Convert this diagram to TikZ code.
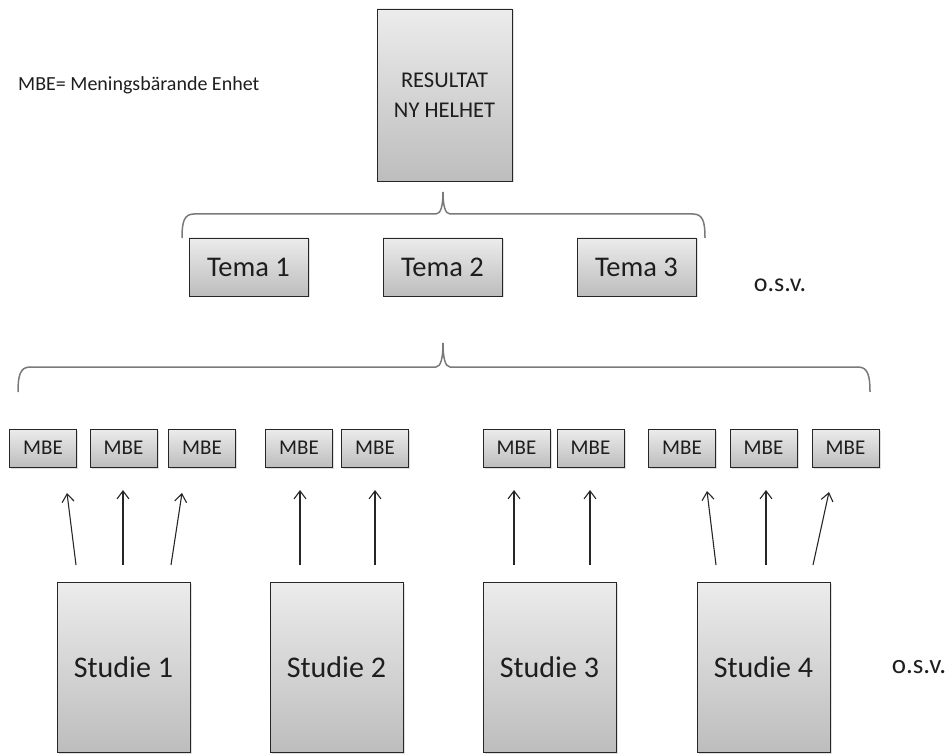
\documentclass[tikz,border=0pt]{standalone}
\usepackage{fontspec}
\setmainfont{Carlito}
\usetikzlibrary{arrows.meta,shadows}
\definecolor{txt}{HTML}{1E1E1E}
\definecolor{brc}{HTML}{7A7A7A}
\definecolor{boxtop}{HTML}{ECECEC}
\definecolor{boxbot}{HTML}{BDBDBD}
\begin{document}
\begin{tikzpicture}[x=1pt,y=-1pt,
  box/.style={draw=black!85, line width=0.9pt, top color=boxtop, bottom color=boxbot,
    inner sep=0pt, text=txt, align=center,
    drop shadow={shadow xshift=1.5pt, shadow yshift=-1.5pt, opacity=0.25}},
  resbox/.style={box, minimum width=135pt, minimum height=172pt, font=\fontsize{22.5}{30}\selectfont},
  temabox/.style={box, minimum width=119pt, minimum height=58pt, font=\fontsize{28.5}{32}\selectfont},
  mbebox/.style={box, minimum width=67pt, minimum height=38pt, font=\fontsize{21}{24}\selectfont},
  studbox/.style={box, minimum width=133pt, minimum height=170pt, font=\fontsize{30}{34}\selectfont},
  plain/.style={text=txt, inner sep=0pt},
  brace/.style={draw=brc, line width=1.5pt},
  arr/.style={draw=black!85, line width=1.1pt, -{Straight Barb[length=8pt,width=12pt,line width=1.1pt]}}]
\useasboundingbox (0,0) rectangle (951,754);

% legend
\node[plain, anchor=west, font=\fontsize{20}{22}\selectfont] (legend) at (18,85) {MBE= Meningsbärande Enhet};

% result
\node[resbox] (res) at (444.5,95) {RESULTAT\\NY HELHET};

% top brace
\coordinate (tbl) at (182,238);
\coordinate (tbr) at (705,238);
\coordinate (tbp) at (443,192);
\draw[brace] (tbl) .. controls (182,222) and (184,214) .. (194,214) -- (436,214)
  .. controls (441,214) and (443,205) .. (tbp)
  .. controls (443,205) and (445,214) .. (450,214) -- (693,214)
  .. controls (703,214) and (705,222) .. (tbr);

% themes
\node[temabox] (t1) at (248.5,267) {Tema 1};
\node[temabox] (t2) at (442.5,267) {Tema 2};
\node[temabox] (t3) at (636.5,267) {Tema 3};
\node[plain, font=\fontsize{26}{30}\selectfont] (osv1) at (780,285) {o.s.v.};

% lower brace
\coordinate (lbl) at (18,392);
\coordinate (lbr) at (870,392);
\coordinate (lbp) at (443,343);
\draw[brace] (lbl) .. controls (18,376) and (20,367) .. (30,367) -- (436,367)
  .. controls (441,367) and (443,357) .. (lbp)
  .. controls (443,357) and (445,367) .. (450,367) -- (858,367)
  .. controls (868,367) and (870,376) .. (lbr);

% MBE boxes
\node[mbebox] (m1) at (43,448) {MBE};
\node[mbebox] (m2) at (123.5,448) {MBE};
\node[mbebox] (m3) at (202,448) {MBE};
\node[mbebox] (m4) at (299,448) {MBE};
\node[mbebox] (m5) at (375,448) {MBE};
\node[mbebox] (m6) at (516.5,448) {MBE};
\node[mbebox] (m7) at (590.5,448) {MBE};
\node[mbebox] (m8) at (682,448) {MBE};
\node[mbebox] (m9) at (763.5,448) {MBE};
\node[mbebox] (m10) at (845.5,448) {MBE};

% studies
\node[studbox] (s1) at (123.5,667) {Studie 1};
\node[studbox] (s2) at (336.5,667) {Studie 2};
\node[studbox] (s3) at (549.5,667) {Studie 3};
\node[studbox] (s4) at (763.5,667) {Studie 4};
\node[plain, font=\fontsize{27}{30}\selectfont] (osv2) at (919,667) {o.s.v.};

% arrows
\coordinate (a1s) at (76,565);  \coordinate (a1e) at (67,493);
\coordinate (a2s) at (123,565); \coordinate (a2e) at (123,490);
\coordinate (a3s) at (171,565); \coordinate (a3e) at (182,493);
\coordinate (a4s) at (300,565); \coordinate (a4e) at (300,490);
\coordinate (a5s) at (375,565); \coordinate (a5e) at (375,490);
\coordinate (a6s) at (514,565); \coordinate (a6e) at (514,490);
\coordinate (a7s) at (590,565); \coordinate (a7e) at (590,490);
\coordinate (a8s) at (716,565); \coordinate (a8e) at (707,491);
\coordinate (a9s) at (766,565); \coordinate (a9e) at (766,490);
\coordinate (a10s) at (813,565); \coordinate (a10e) at (829,492);
\foreach \i in {1,...,10} { \draw[arr] (a\i s) -- (a\i e); }
\end{tikzpicture}
\end{document}
